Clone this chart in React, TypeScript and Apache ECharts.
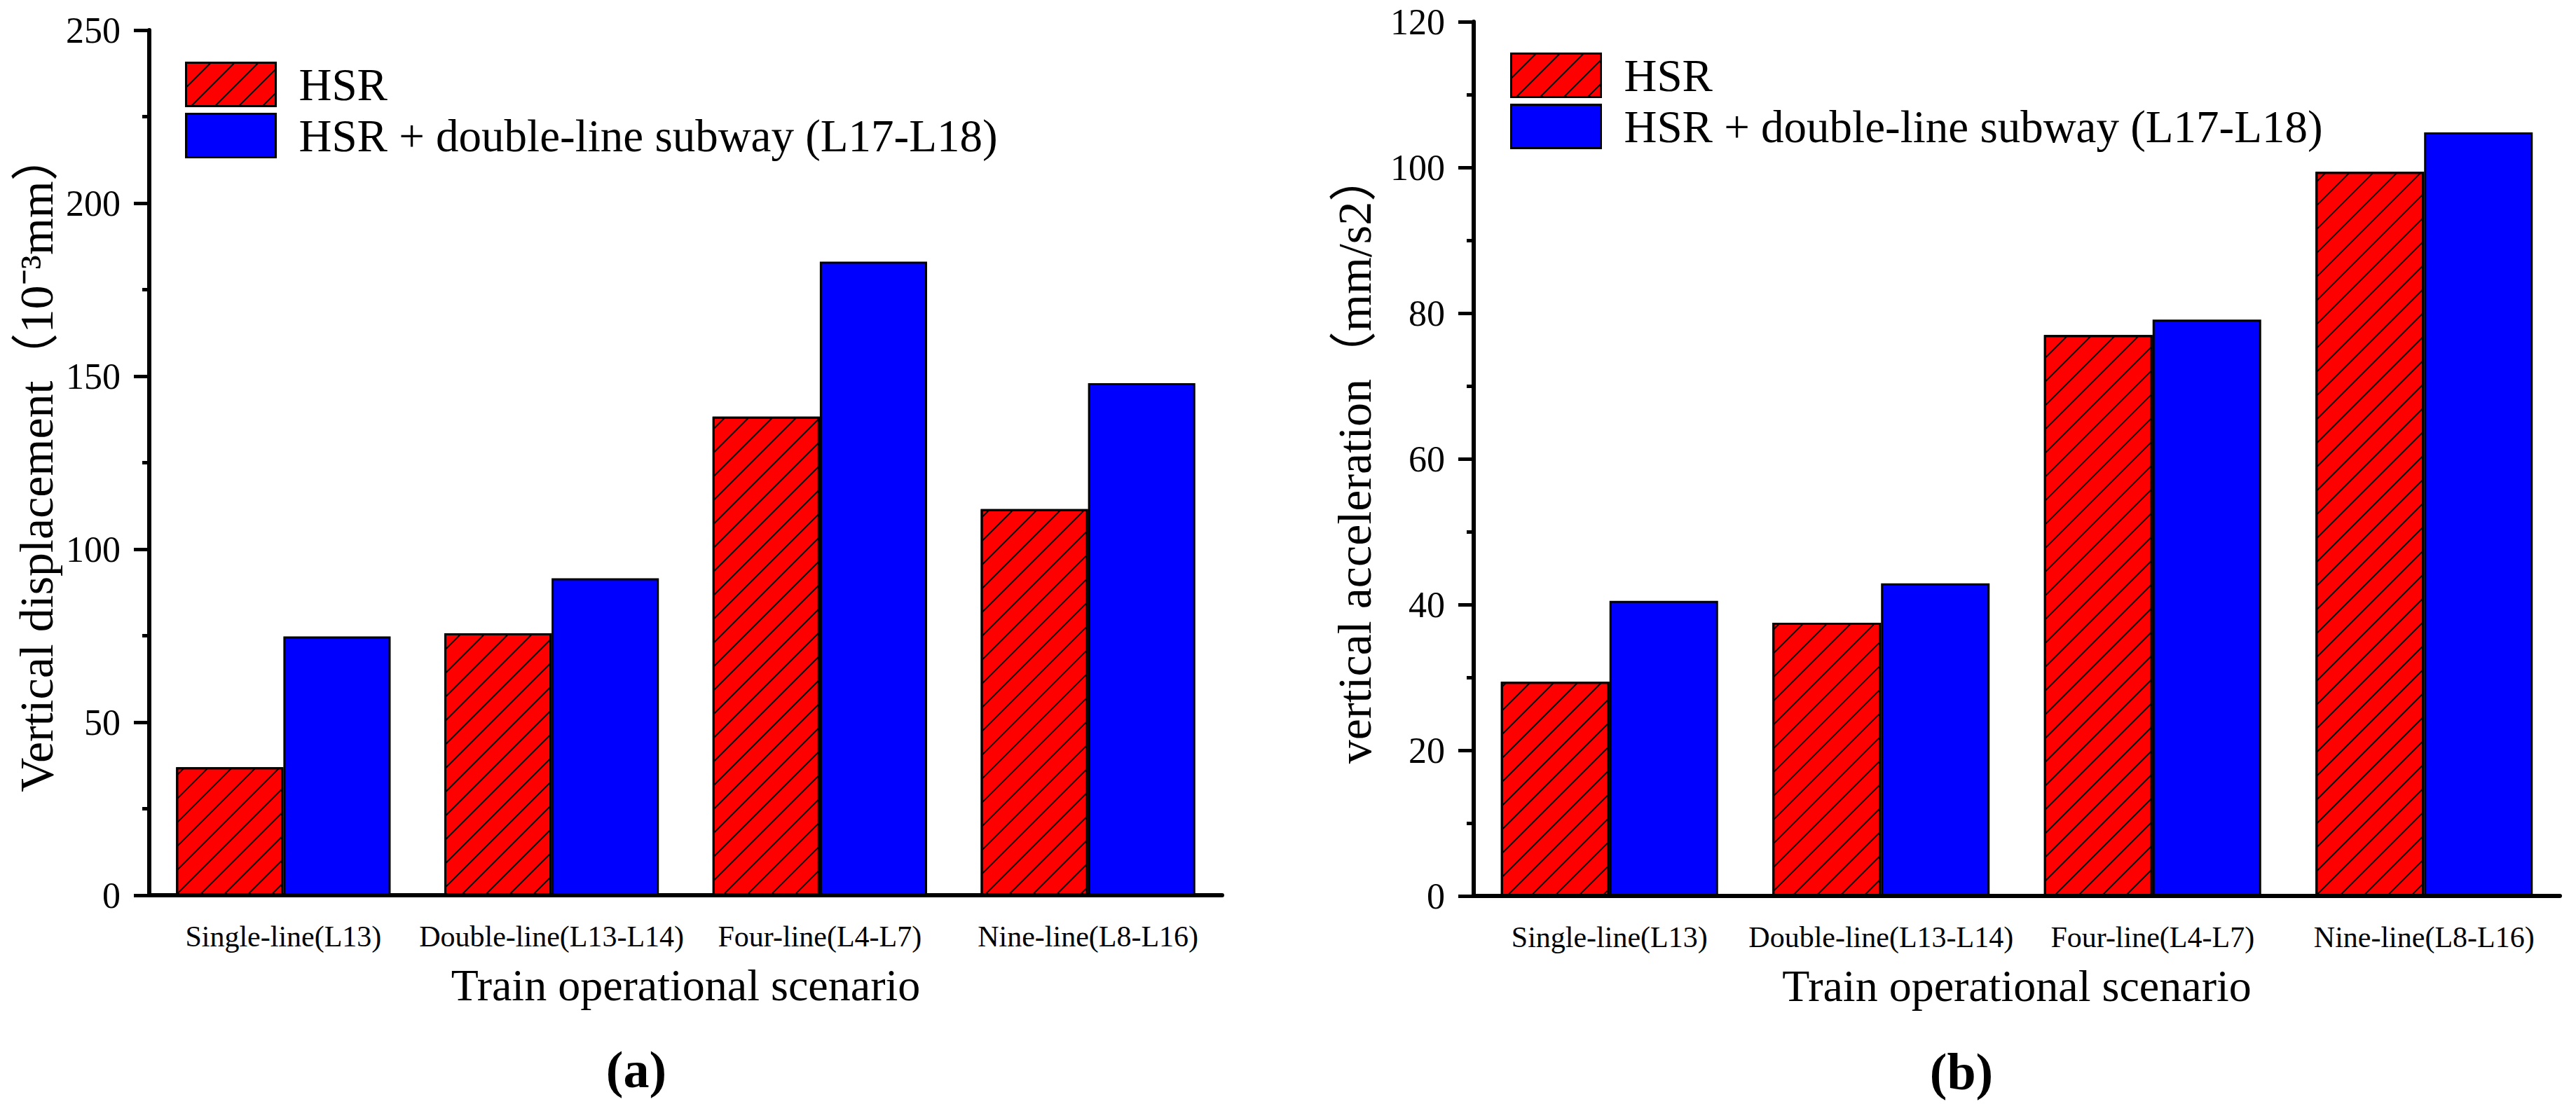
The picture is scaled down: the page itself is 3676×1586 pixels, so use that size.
import { useEffect, useRef } from 'react'
import * as echarts from 'echarts'

// Scenarios on the x axis (shared by both panels)
const categories = ['Single-line(L13)', 'Double-line(L13-L14)', 'Four-line(L4-L7)', 'Nine-line(L8-L16)']
const seriesNames = ['HSR', 'HSR + double-line subway (L17-L18)']

// (a) vertical displacement, 10^-3 mm
const dispHSR = [37.0, 75.7, 138.3, 111.6]
const dispSubway = [74.8, 91.6, 183.1, 148.0]

// (b) vertical acceleration, mm/s2
const accHSR = [29.4, 37.5, 77.0, 99.4]
const accSubway = [40.5, 42.9, 79.1, 104.8]

const FONT = "'Liberation Serif', 'Times New Roman', 'Noto Sans CJK SC', serif"
const RED = '#ff0000'
const BLUE = '#0000ff'

// thin black "/" hatching on the HSR bars
const hatch = {
  symbol: 'rect',
  symbolSize: 1,
  color: '#000',
  dashArrayX: [1, 0],
  dashArrayY: [2, 22],
  rotation: -Math.PI / 4,
}

function mainXAxis(gridIndex: number) {
  return {
    type: 'category',
    gridIndex,
    data: categories,
    name: 'Train operational scenario',
    nameLocation: 'middle',
    nameGap: 96,
    nameTextStyle: { fontFamily: FONT, fontSize: 64, color: '#000' },
    axisLine: { lineStyle: { color: '#000', width: 6 } },
    axisTick: { alignWithLabel: true, length: 25, lineStyle: { width: 5, color: '#000' } },
    axisLabel: { interval: 0, margin: 38, fontFamily: FONT, fontSize: 42, color: '#000' },
    splitLine: { show: false },
  }
}

// second category axis on the same grid: only the short ticks at category boundaries
function boundaryXAxis(gridIndex: number) {
  return {
    type: 'category',
    gridIndex,
    data: categories,
    position: 'bottom',
    axisLine: { show: false },
    axisTick: { length: 12, lineStyle: { width: 5, color: '#000' } },
    axisLabel: { show: false },
    splitLine: { show: false },
  }
}

function yAxis(gridIndex: number, name: string, max: number, interval: number, nameGap: number) {
  return {
    type: 'value',
    gridIndex,
    min: 0,
    max,
    interval,
    name,
    nameLocation: 'middle',
    nameGap,
    nameTextStyle: { fontFamily: FONT, fontSize: 68, color: '#000' },
    axisLine: { show: true, lineStyle: { color: '#000', width: 6 } },
    axisTick: { show: true, length: 22, lineStyle: { width: 5, color: '#000' } },
    minorTick: { show: true, splitNumber: 2, length: 10, lineStyle: { width: 5, color: '#000' } },
    axisLabel: { margin: 41, fontFamily: FONT, fontSize: 52, color: '#000' },
    splitLine: { show: false },
  }
}

function barSeries(name: string, data: number[], xAxisIndex: number, yAxisIndex: number, red: boolean) {
  return {
    type: 'bar',
    name,
    data,
    xAxisIndex,
    yAxisIndex,
    barGap: '0%',
    barCategoryGap: '20%',
    itemStyle: {
      color: red ? RED : BLUE,
      borderColor: '#000',
      borderWidth: 3,
      ...(red ? { decal: hatch } : {}),
    },
  }
}

function legend(left: number, top: number) {
  return {
    orient: 'vertical',
    left,
    top,
    itemWidth: 128,
    itemHeight: 62,
    itemGap: 8,
    icon: 'rect',
    data: [
      { name: seriesNames[0], itemStyle: { color: RED, borderColor: '#000', borderWidth: 3, decal: hatch } },
      { name: seriesNames[1], itemStyle: { color: BLUE, borderColor: '#000', borderWidth: 3 } },
    ],
    textStyle: { fontFamily: FONT, fontSize: 65, color: '#000', lineHeight: 62, padding: [0, 0, 0, 28] },
  }
}

export default function App() {
  const ref = useRef<HTMLDivElement>(null)

  useEffect(() => {
    document.body.style.margin = '0'
    if (!ref.current) return
    const chart = echarts.init(ref.current, null, { renderer: 'svg' })
    chart.setOption({
      animation: false,
      backgroundColor: '#fff',
      grid: [
        { left: 213, top: 43, width: 1531, height: 1235 },
        { left: 2103, top: 31, width: 1550, height: 1248 },
      ],
      legend: [legend(259, 83), legend(2150, 70)],
      xAxis: [mainXAxis(0), mainXAxis(1), boundaryXAxis(0), boundaryXAxis(1)],
      yAxis: [
        yAxis(0, 'Vertical displacement（10⁻³mm）', 250, 50, 127),
        yAxis(1, 'vertical acceleration（mm/s2）', 120, 20, 136),
      ],
      series: [
        barSeries(seriesNames[0], dispHSR, 0, 0, true),
        barSeries(seriesNames[1], dispSubway, 0, 0, false),
        barSeries(seriesNames[0], accHSR, 1, 1, true),
        barSeries(seriesNames[1], accSubway, 1, 1, false),
      ],
      graphic: [
        {
          type: 'text',
          x: 908,
          y: 1527,
          style: { text: '(a)', fontFamily: FONT, fontSize: 74, fontWeight: 'bold', fill: '#000', align: 'center', verticalAlign: 'middle' },
        },
        {
          type: 'text',
          x: 2799,
          y: 1530,
          style: { text: '(b)', fontFamily: FONT, fontSize: 74, fontWeight: 'bold', fill: '#000', align: 'center', verticalAlign: 'middle' },
        },
      ],
    })
    return () => chart.dispose()
  }, [])

  return <div ref={ref} style={{ width: 3676, height: 1586 }} />
}
